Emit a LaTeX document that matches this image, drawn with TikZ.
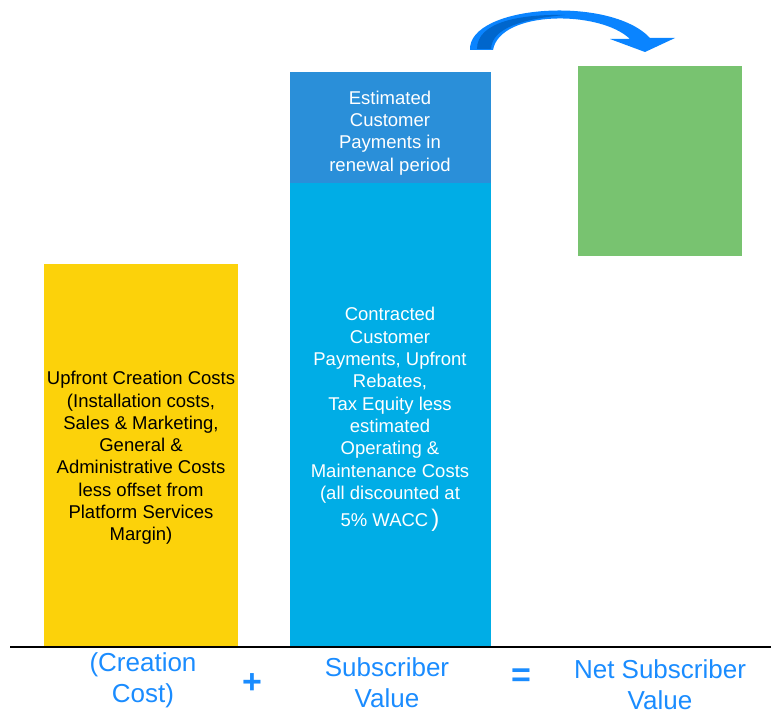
\documentclass[tikz,border=0pt]{standalone}
\usepackage{fontspec}
\setmainfont{Liberation Sans}
\usepackage{tikz}
\usetikzlibrary{calc}
\definecolor{baryellow}{HTML}{FCD20A}
\definecolor{barblue}{HTML}{00ADE6}
\definecolor{bardarkblue}{HTML}{2A8FD9}
\definecolor{bargreen}{HTML}{78C370}
\definecolor{labelblue}{HTML}{1A8CFF}
\definecolor{arrowblue}{HTML}{0A84FF}
\definecolor{arrowdark}{HTML}{0066CC}
\tikzset{
	bartext/.style={align=center, font=\fontsize{18.5}{22.3}\selectfont},
	sumtext/.style={align=center, text=labelblue, font=\fontsize{26}{31}\selectfont},
	signtext/.style={text=labelblue, font=\fontsize{34}{34}\selectfont\bfseries}
}

\begin{document}
\begin{tikzpicture}[x=1pt, y=-1pt]
	\useasboundingbox (0,0) rectangle (771,714);
	
	\fill[baryellow] (44,264) rectangle (238,646);
	\fill[barblue] (290,183) rectangle (491,646);
	\fill[bardarkblue] (290,72) rectangle (491,183);
	\fill[bargreen] (578,66) rectangle (742,256);
	
	\draw[line width=2pt] (10,646.5) -- (771,646.5);
	
	\fill[arrowblue] (470,50) .. controls (468,5) and (610,-5) .. (650,38) -- (675,38) -- (645,52) -- (610,39) -- (630,39) .. controls (600,10) and (500,10) .. (493,50) -- cycle;
	\fill[arrowdark] (477,49) .. controls (477,22) and (520,14) .. (565,15) .. controls (522,19) and (492,28) .. (491,49) -- cycle;
	
	\node[bartext] (creation) at (141,458) {Upfront Creation Costs\\(Installation costs,\\Sales \& Marketing,\\General \&\\Administrative Costs\\less offset from\\Platform Services\\Margin)};
	\node[bartext, text=white] (renewal) at (390,133) {Estimated\\Customer\\Payments in\\renewal period};
	\node[bartext, text=white, anchor=north] (contracted) at (390,304) {Contracted\\Customer\\Payments, Upfront\\Rebates,\\Tax Equity less\\estimated\\Operating \&\\Maintenance Costs\\(all discounted at\\[5pt]5\% WACC\,{\fontsize{24}{20}\selectfont )}};
	
	\node[sumtext] (lcreation) at (143,680) {(Creation\\Cost)};
	\node[signtext] (plus) at (252,684) {+};
	\node[sumtext] (lsubscriber) at (387,683) {Subscriber\\Value};
	\node[signtext] (equal) at (521,678) {=};
	\node[sumtext] (lnet) at (660,685) {Net Subscriber\\Value};
	
\end{tikzpicture}
\end{document}
